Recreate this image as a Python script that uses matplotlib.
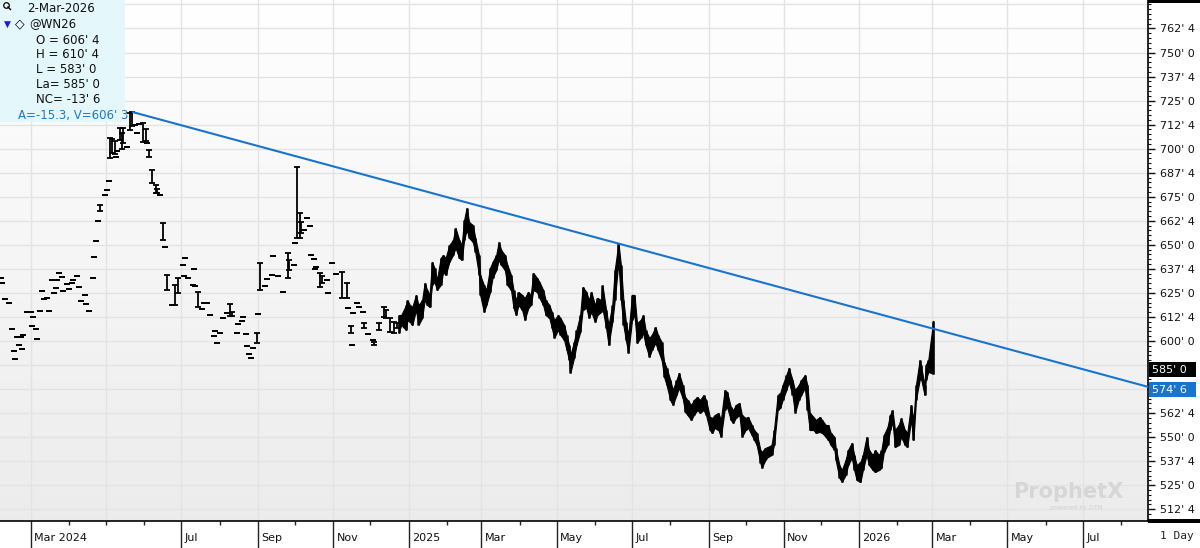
import matplotlib
matplotlib.use("Agg")
import matplotlib.pyplot as plt
import matplotlib.dates as mdates
import matplotlib.transforms as mtransforms
from matplotlib.patches import Rectangle
from matplotlib.lines import Line2D
from matplotlib.ticker import MultipleLocator, FixedLocator
import numpy as np
import pandas as pd

# thin trading, 2024 (bars that show as scattered dashes)
early_dates = ['2024-02-06', '2024-02-07', '2024-02-09', '2024-02-12', '2024-02-15', '2024-02-16',
               '2024-02-17', '2024-02-19', '2024-02-20', '2024-02-22', '2024-02-23', '2024-02-24',
               '2024-02-27', '2024-03-01', '2024-03-02', '2024-03-03', '2024-03-05', '2024-03-06',
               '2024-03-08', '2024-03-10', '2024-03-12', '2024-03-14', '2024-03-16', '2024-03-18',
               '2024-03-20', '2024-03-21', '2024-03-22', '2024-03-24', '2024-03-26', '2024-03-27',
               '2024-03-30', '2024-04-01', '2024-04-03', '2024-04-04', '2024-04-07', '2024-04-09',
               '2024-04-11', '2024-04-14', '2024-04-15', '2024-04-17', '2024-04-20', '2024-04-21',
               '2024-04-23', '2024-04-24', '2024-04-26', '2024-04-30', '2024-05-02', '2024-05-03',
               '2024-05-04', '2024-05-06', '2024-05-08', '2024-05-09', '2024-05-10', '2024-05-12',
               '2024-05-14', '2024-05-15', '2024-05-18', '2024-05-20', '2024-05-22', '2024-05-24',
               '2024-05-26', '2024-05-28', '2024-05-31', '2024-06-02', '2024-06-03', '2024-06-05',
               '2024-06-07', '2024-06-10', '2024-06-11', '2024-06-14', '2024-06-16', '2024-06-18',
               '2024-06-19', '2024-06-23', '2024-06-26', '2024-06-28', '2024-07-02', '2024-07-03',
               '2024-07-04', '2024-07-06', '2024-07-10', '2024-07-11', '2024-07-12', '2024-07-14',
               '2024-07-18', '2024-07-19', '2024-07-22', '2024-07-24', '2024-07-27', '2024-07-28',
               '2024-07-30', '2024-08-01', '2024-08-04', '2024-08-07', '2024-08-09', '2024-08-11',
               '2024-08-15', '2024-08-16', '2024-08-19', '2024-08-20', '2024-08-22', '2024-08-23',
               '2024-08-25', '2024-08-26', '2024-08-28', '2024-08-31', '2024-09-01', '2024-09-03',
               '2024-09-07', '2024-09-08', '2024-09-12', '2024-09-13', '2024-09-17', '2024-09-21',
               '2024-09-25', '2024-09-26', '2024-09-30', '2024-10-01', '2024-10-03', '2024-10-05',
               '2024-10-06', '2024-10-08', '2024-10-11', '2024-10-13', '2024-10-14', '2024-10-16',
               '2024-10-17', '2024-10-18', '2024-10-21', '2024-10-23', '2024-10-27', '2024-10-28',
               '2024-10-31', '2024-11-03', '2024-11-08', '2024-11-12', '2024-11-13', '2024-11-15',
               '2024-11-16', '2024-11-17', '2024-11-20', '2024-11-22', '2024-11-25', '2024-11-26',
               '2024-11-29', '2024-12-03', '2024-12-04', '2024-12-08', '2024-12-12', '2024-12-14',
               '2024-12-17', '2024-12-20', '2024-12-23']
early_high = [632.8, 630.2, 621.8, 619.8, 606.2, 594.8, 590.6, 602.1, 597.9, 602.1, 595.8, 603.1,
              615.1, 615.1, 607.8, 612.5, 606.2, 601.0, 615.6, 626.0, 621.8, 622.4, 615.6, 631.7,
              625.0, 627.6, 631.7, 635.4, 633.3, 626.0, 629.6, 627.0, 630.2, 631.7, 633.8, 628.1,
              620.8, 623.9, 619.2, 615.6, 632.8, 643.7, 652.0, 662.4, 670.7, 675.9, 678.5, 683.2,
              705.6, 705.0, 704.0, 695.7, 698.8, 711.0, 708.0, 711.0, 700.9, 718.6, 719.1, 712.3,
              708.2, 712.8, 713.4, 710.0, 703.0, 699.3, 688.9, 681.0, 679.0, 675.9, 661.4, 648.9,
              634.3, 618.7, 629.1, 633.0, 639.5, 633.8, 643.2, 632.8, 629.1, 637.4, 628.6, 625.5,
              616.6, 619.8, 619.8, 613.5, 602.6, 605.2, 599.0, 604.2, 612.0, 614.6, 619.2, 615.0,
              604.2, 608.8, 610.4, 612.5, 603.6, 597.4, 593.2, 591.2, 596.4, 604.2, 614.0, 640.6,
              628.6, 632.2, 634.3, 644.2, 633.8, 625.5, 645.8, 642.0, 639.5, 651.0, 690.5, 666.6,
              662.0, 657.7, 664.0, 659.8, 644.7, 642.6, 637.4, 638.5, 635.4, 634.0, 631.7, 625.0,
              640.6, 634.8, 635.9, 630.2, 617.2, 607.8, 597.9, 614.6, 619.8, 617.7, 615.1, 609.4,
              603.6, 600.5, 599.5, 609.4, 617.7, 616.0, 612.0, 610.0, 609.4]
early_low = [632.8, 630.2, 621.8, 619.8, 606.2, 594.8, 590.6, 602.1, 597.9, 602.1, 595.8, 603.1,
             615.1, 615.1, 607.8, 612.5, 606.2, 601.0, 615.6, 626.0, 621.8, 622.4, 615.6, 631.7,
             625.0, 627.6, 631.7, 635.4, 633.3, 626.0, 629.6, 627.0, 630.2, 631.7, 633.8, 628.1,
             620.8, 623.9, 619.2, 615.6, 632.8, 643.7, 652.0, 662.4, 667.6, 675.9, 678.5, 683.2,
             695.2, 698.0, 697.0, 695.7, 698.8, 704.5, 700.0, 703.0, 700.9, 709.7, 712.0, 712.3,
             708.2, 712.8, 703.5, 704.0, 703.0, 695.7, 682.2, 677.0, 677.0, 675.9, 652.5, 648.9,
             626.5, 618.7, 618.7, 625.0, 639.5, 633.8, 643.2, 632.8, 629.1, 637.4, 628.6, 617.7,
             616.6, 619.8, 619.8, 613.5, 602.6, 605.2, 599.0, 604.2, 612.0, 614.6, 613.0, 613.0,
             604.2, 608.8, 610.4, 612.5, 603.6, 597.4, 593.2, 591.2, 596.4, 599.0, 614.0, 626.5,
             628.6, 632.2, 634.3, 644.2, 633.8, 625.5, 632.8, 637.0, 639.5, 651.0, 653.6, 653.6,
             656.0, 657.7, 664.0, 659.8, 644.7, 642.6, 637.4, 638.5, 628.1, 630.0, 631.7, 625.0,
             640.6, 634.8, 622.4, 622.4, 617.2, 604.2, 597.9, 614.6, 619.8, 617.7, 615.1, 606.8,
             603.6, 600.5, 597.9, 605.7, 612.5, 612.0, 604.7, 604.0, 606.8]

# active trading, Dec 2024 - Mar 2026
daily_dates = ['2024-12-24', '2024-12-26', '2024-12-30', '2024-12-31', '2025-01-02', '2025-01-04',
               '2025-01-07', '2025-01-09', '2025-01-12', '2025-01-14', '2025-01-16', '2025-01-18',
               '2025-01-20', '2025-01-22', '2025-01-24', '2025-01-27', '2025-01-29', '2025-01-31',
               '2025-02-03', '2025-02-06', '2025-02-08', '2025-02-11', '2025-02-13', '2025-02-15',
               '2025-02-17', '2025-02-19', '2025-02-22', '2025-02-24', '2025-02-27', '2025-02-28',
               '2025-03-03', '2025-03-05', '2025-03-08', '2025-03-10', '2025-03-13', '2025-03-15',
               '2025-03-17', '2025-03-20', '2025-03-22', '2025-03-25', '2025-03-27', '2025-03-29',
               '2025-03-31', '2025-04-03', '2025-04-05', '2025-04-08', '2025-04-10', '2025-04-12',
               '2025-04-15', '2025-04-17', '2025-04-20', '2025-04-22', '2025-04-25', '2025-04-27',
               '2025-04-29', '2025-05-02', '2025-05-04', '2025-05-07', '2025-05-09', '2025-05-11',
               '2025-05-12', '2025-05-15', '2025-05-17', '2025-05-20', '2025-05-22', '2025-05-25',
               '2025-05-27', '2025-05-29', '2025-06-01', '2025-06-03', '2025-06-06', '2025-06-07',
               '2025-06-10', '2025-06-12', '2025-06-15', '2025-06-17', '2025-06-20', '2025-06-22',
               '2025-06-24', '2025-06-26', '2025-06-28', '2025-07-01', '2025-07-03', '2025-07-05',
               '2025-07-08', '2025-07-10', '2025-07-12', '2025-07-15', '2025-07-17', '2025-07-20',
               '2025-07-22', '2025-07-25', '2025-07-27', '2025-07-29', '2025-08-01', '2025-08-03',
               '2025-08-06', '2025-08-08', '2025-08-11', '2025-08-13', '2025-08-15', '2025-08-18',
               '2025-08-20', '2025-08-23', '2025-08-25', '2025-08-28', '2025-08-30', '2025-09-02',
               '2025-09-04', '2025-09-06', '2025-09-09', '2025-09-11', '2025-09-14', '2025-09-16',
               '2025-09-19', '2025-09-21', '2025-09-23', '2025-09-26', '2025-09-28', '2025-10-01',
               '2025-10-03', '2025-10-06', '2025-10-08', '2025-10-10', '2025-10-13', '2025-10-14',
               '2025-10-17', '2025-10-19', '2025-10-22', '2025-10-24', '2025-10-27', '2025-10-29',
               '2025-10-31', '2025-11-03', '2025-11-05', '2025-11-08', '2025-11-10', '2025-11-13',
               '2025-11-15', '2025-11-18', '2025-11-20', '2025-11-22', '2025-11-25', '2025-11-27',
               '2025-11-30', '2025-12-02', '2025-12-05', '2025-12-07', '2025-12-09', '2025-12-12',
               '2025-12-13', '2025-12-16', '2025-12-18', '2025-12-21', '2025-12-23', '2025-12-26',
               '2025-12-28', '2025-12-30', '2026-01-02', '2026-01-04', '2026-01-07', '2026-01-09',
               '2026-01-12', '2026-01-14', '2026-01-17', '2026-01-19', '2026-01-21', '2026-01-24',
               '2026-01-26', '2026-01-28', '2026-01-30', '2026-02-02', '2026-02-04', '2026-02-07',
               '2026-02-09', '2026-02-12', '2026-02-14', '2026-02-16', '2026-02-19', '2026-02-20',
               '2026-02-23', '2026-02-24', '2026-02-26', '2026-03-02']
daily_high = [613.5, 613.5, 618.7, 621.3, 618.7, 617.7, 623.9, 618.7, 621.3, 630.2, 626.5, 623.9,
              641.1, 638.0, 631.7, 643.2, 644.7, 643.2, 649.9, 652.5, 658.8, 652.5, 649.9, 662.9,
              669.2, 661.9, 660.3, 653.6, 644.7, 634.3, 629.1, 626.5, 638.0, 641.1, 644.7, 651.5,
              647.3, 644.7, 639.5, 634.3, 626.5, 621.3, 625.5, 623.9, 622.4, 625.5, 623.9, 635.4,
              632.8, 630.7, 626.5, 621.3, 618.7, 615.1, 610.9, 613.5, 612.0, 608.3, 603.1, 597.9,
              592.7, 599.5, 605.7, 613.5, 628.1, 625.5, 621.3, 625.5, 618.7, 622.4, 621.3, 629.1,
              616.1, 608.3, 618.7, 636.9, 651.0, 639.5, 621.3, 609.9, 603.1, 624.0, 623.9, 609.4,
              610.9, 613.5, 605.7, 601.6, 603.1, 607.3, 603.1, 599.5, 589.1, 586.0, 579.7, 574.5,
              579.7, 583.4, 577.1, 570.9, 569.3, 566.7, 569.3, 570.9, 569.3, 571.9, 569.3, 560.5,
              560.0, 561.5, 562.6, 558.9, 574.5, 573.5, 565.7, 564.1, 566.7, 567.8, 561.5, 560.0,
              560.5, 556.3, 553.7, 552.2, 543.3, 542.3, 544.4, 544.9, 545.9, 553.7, 571.9, 572.9,
              577.1, 582.3, 586.0, 579.7, 574.5, 577.1, 579.7, 582.3, 577.1, 562.6, 560.5, 558.9,
              560.5, 558.9, 556.3, 556.3, 552.2, 550.1, 544.4, 535.5, 532.9, 538.1, 543.3, 547.0,
              540.7, 535.5, 537.1, 540.7, 550.1, 543.3, 540.7, 543.3, 540.7, 543.3, 551.1, 555.3,
              561.5, 564.1, 553.7, 556.3, 560.0, 553.7, 552.2, 566.7, 558.9, 577.1, 590.1, 587.5,
              577.1, 587.5, 590.1, 610.5]
daily_low = [604.2, 608.3, 605.7, 610.9, 609.9, 608.3, 616.1, 608.3, 612.0, 621.3, 618.7, 617.7,
             629.1, 630.7, 626.5, 629.1, 635.9, 634.3, 641.1, 644.7, 648.4, 643.2, 642.1, 652.5,
             657.7, 653.6, 651.5, 646.3, 634.3, 623.9, 615.1, 618.7, 625.5, 632.8, 636.9, 642.1,
             639.5, 636.9, 629.1, 626.5, 617.2, 613.5, 618.7, 616.1, 610.9, 617.2, 618.7, 626.5,
             625.5, 622.4, 618.7, 613.5, 612.0, 606.8, 601.6, 605.7, 603.1, 600.5, 595.3, 590.1,
             583.4, 591.2, 597.9, 604.7, 616.1, 617.2, 612.0, 615.1, 609.9, 613.5, 615.1, 617.2,
             606.8, 597.9, 609.9, 621.3, 641.1, 621.3, 608.3, 600.5, 593.8, 610.9, 613.5, 599.0,
             601.6, 604.2, 597.9, 591.7, 595.3, 599.0, 595.3, 590.1, 581.3, 577.1, 569.3, 566.7,
             571.9, 575.6, 570.4, 563.1, 561.5, 558.9, 561.5, 564.1, 562.6, 564.1, 561.5, 553.7,
             552.2, 554.8, 553.7, 550.1, 564.1, 565.7, 558.9, 557.4, 560.0, 561.5, 550.1, 553.7,
             554.8, 551.1, 548.5, 545.9, 536.6, 534.0, 538.1, 539.7, 540.7, 545.9, 564.1, 565.2,
             569.3, 574.5, 578.7, 571.9, 562.6, 569.3, 571.9, 575.6, 564.1, 553.7, 553.7, 552.2,
             552.7, 552.2, 550.1, 548.5, 545.9, 543.3, 538.1, 528.8, 526.7, 530.3, 535.5, 539.2,
             532.9, 527.7, 526.7, 532.9, 540.7, 535.5, 532.9, 531.9, 532.9, 534.0, 542.3, 545.9,
             553.7, 557.9, 544.9, 545.9, 550.1, 545.9, 544.9, 558.9, 548.5, 569.3, 579.7, 580.8,
             571.9, 579.7, 583.9, 583.0]

# trend line: anchor at the May 2024 high, value V on the last bar
trend_dates = ['2024-05-22', '2026-03-02']
trend_vals = [719.1, 606.375]

last_price = 585.0
line_price = 574.75
month_labels = ['Mar 2024', 'Jul', 'Sep', 'Nov', '2025', 'Mar', 'May', 'Jul', 'Sep', 'Nov',
                '2026', 'Mar', 'May', 'Jul']
month_label_dates = ['2024-03-01', '2024-07-01', '2024-09-01', '2024-11-01', '2025-01-01',
                     '2025-03-01', '2025-05-01', '2025-07-01', '2025-09-01', '2025-11-01',
                     '2026-01-01', '2026-03-01', '2026-05-01', '2026-07-01']
info_lines = ["O = 606' 4", "H = 610' 4", "L = 583' 0", "La= 585' 0", "NC= -13' 6"]


def fmt_eighths(v):
    whole = int(np.floor(v + 1e-9))
    return f"{whole}' {int(round((v - whole) * 8))}"


W, H = 1200, 548
fig = plt.figure(figsize=(12, 5.48), dpi=100)
fig.patch.set_facecolor('white')
plt.rcParams['font.family'] = ['DejaVu Sans']

ax = fig.add_axes([0, 27 / H, 1148 / W, 521 / H])
x0 = pd.Timestamp('2024-02-05')
x1 = pd.Timestamp('2026-08-23')
ax.set_xlim(x0, x1)
ax.set_ylim(506.4, 777.3)
px_per_cent = (521 / (777.3 - 506.4))

# background gradient, white at top to light grey at bottom
grad = np.linspace(0, 1, 256).reshape(-1, 1, 1)
top = np.array([1.0, 1.0, 1.0])
bot = np.array([0.925, 0.925, 0.925])
img = top + (bot - top) * grad
ax.imshow(img, extent=[0, 1, 0, 1], transform=ax.transAxes, aspect='auto', zorder=0)

# grid
for v in np.arange(512.5, 777, 12.5):
    ax.axhline(v, color='#e3e3e3', lw=1, zorder=1)
for d in pd.date_range('2024-03-01', '2026-07-01', freq='2MS'):
    ax.axvline(d, color='#e3e3e3', lw=1, zorder=1)

# early bars
ed = pd.to_datetime(early_dates)
ax.vlines(ed, early_low, early_high, color='black', lw=1.3, zorder=3)
ax.plot(ed, early_high, '_', color='black', ms=4, mew=1.3, zorder=3)
ax.plot(ed, early_low, '_', color='black', ms=4, mew=1.3, zorder=3)

# active bars
dd = pd.to_datetime(daily_dates)
ax.fill_between(dd, daily_low, daily_high, color='black', lw=0.8, zorder=3)
ax.vlines(dd, daily_low, daily_high, color='black', lw=1.8, zorder=3)

# trend line
td = pd.to_datetime(trend_dates)
tx = mdates.date2num(td)
slope = (trend_vals[1] - trend_vals[0]) / (tx[1] - tx[0])
end_val = trend_vals[0] + slope * (mdates.date2num(x1) - tx[0])
ax.plot([td[0], x1], [trend_vals[0], end_val], color='#1874cd', lw=1.5, zorder=4,
        solid_capstyle='butt')

# right axis; the two price boxes hide the labels they sit on
major_vals = np.arange(512.5, 770, 12.5)
ax.yaxis.tick_right()
ax.yaxis.set_major_locator(FixedLocator(major_vals))
ax.yaxis.set_minor_locator(MultipleLocator(2.5))
ax.set_yticklabels(['' if v in (575.0, 587.5) else fmt_eighths(v) for v in major_vals])
ax.tick_params(axis='y', which='major', length=5, width=1, labelsize=8, pad=4, colors='#111111')
ax.tick_params(axis='y', which='minor', length=2.5, width=0.8, color='#111111')

# bottom axis
ax.xaxis.set_major_locator(FixedLocator(mdates.date2num(pd.to_datetime(month_label_dates))))
ax.xaxis.set_minor_locator(mdates.MonthLocator())
ax.set_xticklabels([])
ax.tick_params(axis='x', which='major', length=19.5, width=1, color='#222222')
ax.tick_params(axis='x', which='minor', length=3, width=1, color='#222222')
for d, lab in zip(pd.to_datetime(month_label_dates), month_labels):
    ax.annotate(lab, xy=(d, 0), xycoords=('data', 'axes fraction'), xytext=(2.5, -12),
                textcoords='offset points', ha='left', va='center', fontsize=8, color='#111111',
                annotation_clip=False)

for s in ['top', 'left']:
    ax.spines[s].set_visible(False)
ax.spines['right'].set_linewidth(1.2)
ax.spines['bottom'].set_linewidth(1.2)

# price boxes on the right axis
blend = mtransforms.blended_transform_factory(ax.transAxes, ax.transData)
box_w = 47 / 1148
box_h = 15 / px_per_cent
for val, col in [(last_price, 'black'), (line_price, '#1874cd')]:
    ax.add_patch(Rectangle((1.0005, val - box_h / 2), box_w, box_h, transform=blend,
                           fc=col, ec='none', clip_on=False, zorder=6))
    ax.text(1.0005 + 3 / 1148, val, fmt_eighths(val), transform=blend, fontsize=8,
            color='white', va='center', ha='left', zorder=7)


def fx(px):
    return px / W


def fy(py):
    return 1 - py / H


# heavy rules in the right column
fig.add_artist(Rectangle((fx(1148), fy(3)), fx(52), 3 / H, transform=fig.transFigure,
                         fc='black', ec='none'))
fig.add_artist(Rectangle((fx(1148), fy(523)), fx(52), 4 / H, transform=fig.transFigure,
                         fc='black', ec='none'))
fig.text(fx(1160), fy(536), '1 Day', fontsize=8, family='DejaVu Sans Mono', va='center',
         color='#222222')

# info panel
fig.add_artist(Rectangle((0, fy(122)), fx(125), 122 / H, transform=fig.transFigure,
                         fc='#e4f7fa', ec='none', zorder=5))
fig.add_artist(Line2D([fx(6)], [fy(5)], marker='o', ms=4, mfc='none', mec='black', mew=0.9,
                      transform=fig.transFigure, zorder=6))
fig.add_artist(Line2D([fx(8), fx(10.5)], [fy(7), fy(9.5)], color='black', lw=1,
                      transform=fig.transFigure, zorder=6))
fig.text(fx(27), fy(9), '2-Mar-2026', fontsize=8.5, va='center', color='#111111', zorder=6)
fig.text(fx(4), fy(24), '▼', fontsize=6.5, va='center', color='#1a1adc', zorder=6)
fig.text(fx(15), fy(24), '◇', fontsize=9, va='center', color='black', zorder=6,
         fontweight='bold')
fig.text(fx(29), fy(24), '@WN26', fontsize=8.5, va='center', color='#111111', zorder=6)
for i, t in enumerate(info_lines):
    fig.text(fx(36), fy(40 + i * 14.8), t, fontsize=8.5, va='center', color='#111111', zorder=6)
fig.text(fx(18), fy(115), 'A=-15.3, V=606\' 3', fontsize=8.5, va='center', color='#1e78c8',
         zorder=6)

# watermark
fig.text(fx(1013), fy(492), 'ProphetX', fontsize=15, fontweight='bold', va='center',
         color='#d6d6d6', zorder=2)
fig.text(fx(1050), fy(507), 'powered by DTN', fontsize=4.5, va='center', color='#d0d0d0',
         zorder=2)

fig.savefig('out.png', dpi=100)
